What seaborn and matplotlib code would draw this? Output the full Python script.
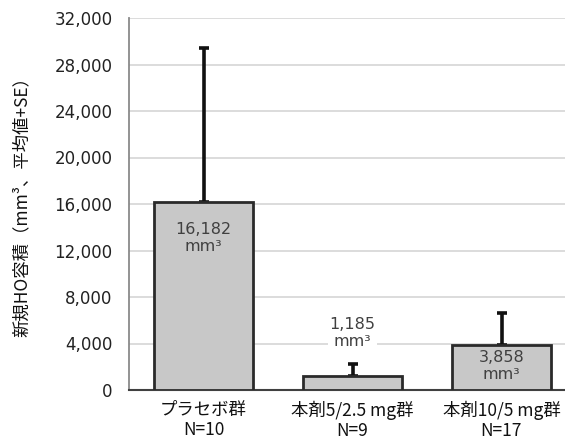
import matplotlib
matplotlib.use("Agg")
import matplotlib.pyplot as plt
import seaborn as sns
import pandas as pd
from matplotlib.ticker import FuncFormatter

# Groups, mean new HO volume (mm3) and standard error
groups = ["プラセボ群\nN=10", "本剤5/2.5 mg群\nN=9", "本剤10/5 mg群\nN=17"]
means = [16182, 1185, 3858]
se = [13240, 1050, 2770]
yticks = [0, 4000, 8000, 12000, 16000, 20000, 24000, 28000, 32000]

sns.set_theme(style="white")
plt.rcParams["font.family"] = "DejaVu Sans"
cjk = ["Noto Sans CJK JP", "DejaVu Sans"]

df = pd.DataFrame({"group": groups, "mean": means})

fig = plt.figure(figsize=(5.65, 4.45), dpi=100)
ax = fig.add_axes([129 / 565, 55 / 445, 447 / 565, 372 / 445])

sns.barplot(data=df, x="group", y="mean", ax=ax, width=0.67,
            color="#c8c8c8", saturation=1, edgecolor="#2a2a2a",
            linewidth=2, zorder=3, errorbar=None)
ax.errorbar(range(len(means)), means, yerr=[[0] * len(se), se], fmt="none",
            ecolor="#111111", elinewidth=2.6, capsize=3.5, capthick=2.6,
            zorder=2)

ax.set_xlim(-0.5, 2.5)
ax.set_ylim(0, 32000)
ax.set_yticks(yticks)
ax.yaxis.set_major_formatter(FuncFormatter(lambda v, p: f"{int(v):,}"))
ax.grid(axis="y", color="#d9d9d9", linewidth=1.3, zorder=0)
ax.set_axisbelow(True)

for s in ["top", "right"]:
    ax.spines[s].set_visible(False)
ax.spines["left"].set_color("#8a8a8a")
ax.spines["left"].set_linewidth(1.3)
ax.spines["bottom"].set_color("#404040")
ax.spines["bottom"].set_linewidth(1.5)

ax.tick_params(axis="y", length=0, pad=12, labelsize=12, labelcolor="#222222")
ax.tick_params(axis="x", length=0, pad=8, labelsize=12.5, labelcolor="#111111")
for lab in ax.get_xticklabels():
    lab.set_family(cjk)
    lab.set_linespacing(1.1)

ax.set_xlabel("")
ax.set_ylabel("")
fig.text(22 / 565, 0.545, "新規HO容積（mm³、平均値+SE）", rotation=90,
         ha="center", va="center", fontsize=12.5, family=cjk, color="#111111")

# Value labels
offsets = [-36, 43, -21]
for i, (m, off) in enumerate(zip(means, offsets)):
    kw = {}
    if off > 0:
        kw["bbox"] = dict(facecolor="white", edgecolor="none", pad=1)
    ax.annotate(f"{m:,}\nmm³", xy=(i, m), xytext=(0, off),
                textcoords="offset pixels", ha="center", va="center",
                fontsize=11.5, color="#404040", linespacing=1.15,
                zorder=5, **kw)

fig.savefig("out.png", dpi=100)
